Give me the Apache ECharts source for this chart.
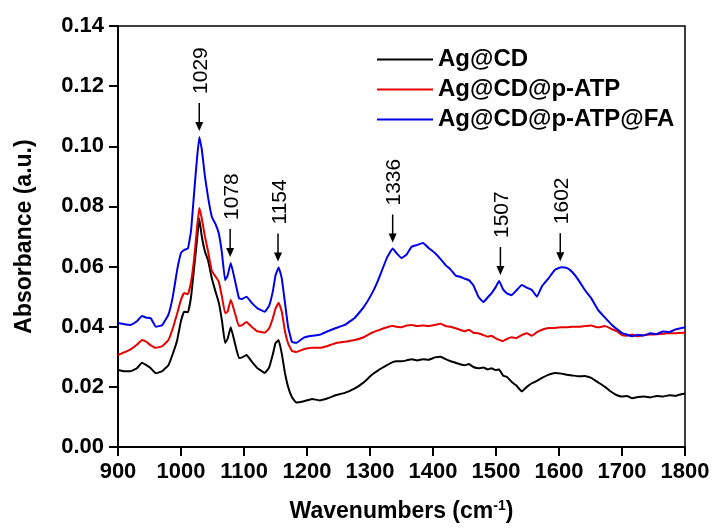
<!DOCTYPE html>
<html>
<head>
<meta charset="utf-8">
<script src="https://cdn.jsdelivr.net/npm/echarts@6/dist/echarts.min.js"></script>
<style>
  html, body { margin: 0; padding: 0; background: #fff; }
  #chart { width: 715px; height: 531px; }
</style>
</head>
<body>
<div id="chart"></div>
<script>
const wavenumbers = [
  900, 910, 920, 930, 938, 945, 952, 960, 970, 980,
  987, 994, 1000, 1005, 1011, 1016, 1021, 1025, 1029, 1033,
  1038, 1043, 1049, 1055, 1060, 1065, 1070, 1074, 1079, 1085,
  1092, 1097, 1104, 1112, 1121, 1133, 1140, 1146, 1150, 1155,
  1160, 1165, 1170, 1176, 1183, 1195, 1208, 1220, 1233, 1245,
  1260, 1276, 1290, 1303, 1313, 1327, 1336, 1342, 1350, 1358,
  1366, 1375, 1384, 1393, 1403, 1412, 1420, 1428, 1436, 1443,
  1450, 1457, 1464, 1472, 1480, 1487, 1493, 1499, 1505, 1511,
  1518, 1525, 1532, 1541, 1549, 1557, 1565, 1573, 1583, 1594,
  1604, 1613, 1621, 1631, 1641, 1651, 1662, 1673, 1684, 1692,
  1700, 1708, 1716, 1725, 1735, 1745, 1755, 1765, 1775, 1785,
  1795, 1800
];

// Ag@CD
const agCD = [
  0.0256, 0.0252, 0.0252, 0.0262, 0.0280, 0.0272, 0.0262, 0.0245, 0.0252, 0.0272,
  0.0310, 0.0356, 0.0420, 0.0450, 0.0448, 0.0500, 0.0600, 0.0680, 0.0760, 0.0700,
  0.0650, 0.0620, 0.0560, 0.0515, 0.0480, 0.0420, 0.0346, 0.0360, 0.0398, 0.0350,
  0.0296, 0.0298, 0.0306, 0.0285, 0.0263, 0.0246, 0.0265, 0.0310, 0.0345, 0.0356,
  0.0310, 0.0246, 0.0200, 0.0166, 0.0148, 0.0152, 0.0160, 0.0155, 0.0162, 0.0172,
  0.0180, 0.0195, 0.0215, 0.0240, 0.0255, 0.0272, 0.0282, 0.0285, 0.0285, 0.0288,
  0.0292, 0.0288, 0.0292, 0.0290, 0.0298, 0.0300, 0.0292, 0.0285, 0.0280, 0.0275,
  0.0272, 0.0276, 0.0266, 0.0262, 0.0264, 0.0258, 0.0262, 0.0256, 0.0258, 0.0238,
  0.0232, 0.0216, 0.0205, 0.0185, 0.0200, 0.0212, 0.0220, 0.0230, 0.0240, 0.0246,
  0.0244, 0.0240, 0.0238, 0.0235, 0.0236, 0.0230, 0.0215, 0.0200, 0.0182, 0.0172,
  0.0168, 0.0170, 0.0162, 0.0166, 0.0168, 0.0165, 0.0170, 0.0168, 0.0172, 0.0170,
  0.0176, 0.0178
];

// Ag@CD@p-ATP
const agCDpATP = [
  0.0306, 0.0315, 0.0325, 0.0340, 0.0356, 0.0350, 0.0338, 0.0330, 0.0335, 0.0356,
  0.0395, 0.0445, 0.0490, 0.0512, 0.0508, 0.0550, 0.0630, 0.0720, 0.0795, 0.0760,
  0.0700, 0.0650, 0.0585, 0.0566, 0.0550, 0.0500, 0.0445, 0.0450, 0.0490, 0.0450,
  0.0402, 0.0405, 0.0416, 0.0400, 0.0385, 0.0380, 0.0395, 0.0430, 0.0460, 0.0480,
  0.0450, 0.0385, 0.0345, 0.0320, 0.0316, 0.0325, 0.0330, 0.0330, 0.0336, 0.0345,
  0.0350, 0.0356, 0.0365, 0.0380, 0.0388, 0.0398, 0.0402, 0.0400, 0.0398, 0.0404,
  0.0406, 0.0402, 0.0404, 0.0402, 0.0406, 0.0410, 0.0402, 0.0400, 0.0395, 0.0390,
  0.0385, 0.0390, 0.0380, 0.0378, 0.0372, 0.0367, 0.0370, 0.0362, 0.0356, 0.0352,
  0.0360, 0.0365, 0.0362, 0.0372, 0.0378, 0.0370, 0.0382, 0.0390, 0.0396, 0.0396,
  0.0398, 0.0398, 0.0400, 0.0400, 0.0402, 0.0404, 0.0398, 0.0402, 0.0392, 0.0385,
  0.0372, 0.0370, 0.0374, 0.0368, 0.0372, 0.0374, 0.0375, 0.0377, 0.0378, 0.0378,
  0.0380, 0.0380
];

// Ag@CD@p-ATP@FA
const agCDpATPFA = [
  0.0412, 0.0408, 0.0406, 0.0418, 0.0436, 0.0430, 0.0428, 0.0400, 0.0405, 0.0440,
  0.0500, 0.0590, 0.0645, 0.0655, 0.0660, 0.0720, 0.0850, 0.0950, 0.1031, 0.0990,
  0.0900, 0.0830, 0.0765, 0.0740, 0.0710, 0.0645, 0.0555, 0.0570, 0.0612, 0.0560,
  0.0495, 0.0492, 0.0500, 0.0480, 0.0462, 0.0450, 0.0470, 0.0520, 0.0570, 0.0597,
  0.0560, 0.0480, 0.0400, 0.0350, 0.0346, 0.0364, 0.0370, 0.0373, 0.0385, 0.0395,
  0.0406, 0.0430, 0.0465, 0.0510, 0.0555, 0.0630, 0.0660, 0.0645, 0.0628, 0.0640,
  0.0666, 0.0672, 0.0678, 0.0662, 0.0645, 0.0625, 0.0605, 0.0590, 0.0570, 0.0566,
  0.0560, 0.0555, 0.0538, 0.0500, 0.0482, 0.0498, 0.0512, 0.0530, 0.0552, 0.0525,
  0.0510, 0.0505, 0.0520, 0.0539, 0.0530, 0.0522, 0.0500, 0.0535, 0.0560, 0.0590,
  0.0598, 0.0595, 0.0582, 0.0555, 0.0522, 0.0495, 0.0456, 0.0430, 0.0406, 0.0392,
  0.0379, 0.0374, 0.0368, 0.0373, 0.0371, 0.0378, 0.0376, 0.0384, 0.0382, 0.0391,
  0.0396, 0.0398
];

const seriesNames = ['Ag@CD', 'Ag@CD@p-ATP', 'Ag@CD@p-ATP@FA'];
const seriesColors = ['#000000', '#e60000', '#0000e6'];

// peak labels (arrows point at the FA curve)
const peakLabels = [1029, 1078, 1154, 1336, 1507, 1602];

const FONT = 'Liberation Sans, Arial, sans-serif';

const chart = echarts.init(document.getElementById('chart'));

const toPairs = (vals) => wavenumbers.map((w, i) => [w, vals[i]]);
const allValues = [agCD, agCDpATP, agCDpATPFA];

const option = {
  animation: false,
  backgroundColor: '#fff',
  grid: {
    left: 118,
    right: 30,
    top: 26,
    bottom: 84,
    show: true,
    borderColor: '#000',
    borderWidth: 1.5,
  },
  legend: {
    orient: 'vertical',
    left: 377,
    top: 47,
    padding: 0,
    itemWidth: 56,
    itemHeight: 14,
    itemGap: 5,
    icon: 'path://M0,6 L56,6 L56,8 L0,8 Z',
    textStyle: {
      fontFamily: FONT,
      fontSize: 24,
      fontWeight: 'bold',
      color: '#000',
      lineHeight: 25,
    },
    data: seriesNames,
  },
  xAxis: {
    type: 'value',
    min: 900,
    max: 1800,
    interval: 100,
    name: '{a|Wavenumbers (cm}{b|-1}{a|)}',
    nameLocation: 'middle',
    nameGap: 52,
    nameTextStyle: {
      rich: {
        a: { fontFamily: FONT, fontSize: 23, fontWeight: 'bold', color: '#000' },
        b: { fontFamily: FONT, fontSize: 14, fontWeight: 'bold', color: '#000', verticalAlign: 'top', padding: [0, 0, 12, 0] },
      },
    },
    axisLine: { lineStyle: { color: '#000', width: 2 } },
    axisTick: { inside: false, length: 9, lineStyle: { color: '#000', width: 2 } },
    axisLabel: {
      margin: 14,
      fontFamily: FONT,
      fontSize: 22,
      fontWeight: 'bold',
      color: '#000',
      formatter: (v) => String(v),
    },
    splitLine: { show: false },
  },
  yAxis: {
    type: 'value',
    min: 0,
    max: 0.14,
    interval: 0.02,
    name: 'Absorbance (a.u.)',
    nameLocation: 'middle',
    nameGap: 82,
    nameTextStyle: {
      fontFamily: FONT,
      fontSize: 23,
      fontWeight: 'bold',
      color: '#000',
    },
    axisLine: { lineStyle: { color: '#000', width: 2 } },
    axisTick: { inside: false, length: 9, lineStyle: { color: '#000', width: 2 } },
    axisLabel: {
      margin: 14,
      fontFamily: FONT,
      fontSize: 22,
      fontWeight: 'bold',
      color: '#000',
      formatter: (v) => v.toFixed(2),
    },
    splitLine: { show: false },
  },
  series: seriesNames.map((name, i) => ({
    name: name,
    type: 'line',
    data: toPairs(allValues[i]),
    symbol: 'none',
    smooth: 0.1,
    lineStyle: { color: seriesColors[i], width: 2 },
    itemStyle: { color: seriesColors[i] },
  })),
};

chart.setOption(option);

// arrows + rotated wavenumber labels above the FA peaks
const graphics = [];
peakLabels.forEach((wn) => {
  let idx = 0;
  wavenumbers.forEach((w, i) => {
    if (Math.abs(w - wn) < Math.abs(wavenumbers[idx] - wn)) idx = i;
  });
  const p = chart.convertToPixel({ gridIndex: 0 }, [wn, agCDpATPFA[idx]]);
  const x = p[0];
  const tip = p[1] - 6;
  const top = tip - 28;
  graphics.push({
    type: 'line',
    shape: { x1: x, y1: top, x2: x, y2: tip - 6 },
    style: { stroke: '#000', lineWidth: 1.5 },
  });
  graphics.push({
    type: 'polygon',
    shape: { points: [[x - 4, tip - 9], [x + 4, tip - 9], [x, tip]] },
    style: { fill: '#000' },
  });
  graphics.push({
    type: 'text',
    x: x + 2,
    y: top - 9,
    rotation: Math.PI / 2,
    style: {
      text: String(wn),
      fontFamily: FONT,
      fontSize: 21,
      fill: '#000',
      align: 'left',
      verticalAlign: 'middle',
    },
  });
});
chart.setOption({ graphic: graphics });
</script>
</body>
</html>
